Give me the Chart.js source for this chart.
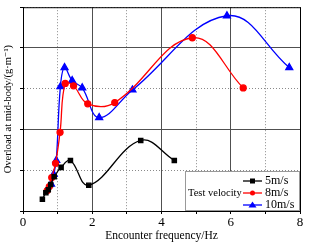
<!DOCTYPE html>
<html>
<head>
<meta charset="utf-8">
<script src="https://cdn.jsdelivr.net/npm/chart.js@4/dist/chart.umd.min.js"></script>
<style>
  html, body { margin: 0; padding: 0; background: #fff; }
  #wrap { width: 322px; height: 243px; }
</style>
</head>
<body>
<div id="wrap"><canvas id="chartload"></canvas></div>
<script>
// values (y axis has no numbers, so arbitrary units)
const seriesLabels = ['5m/s', '8m/s', '10m/s']
const freq5 = [0.56, 0.66, 0.73, 0.80, 0.90, 1.10, 1.37, 1.90, 3.40, 4.37]
const load5 = [0.29, 0.45, 0.52, 0.65, 0.84, 1.07, 1.24, 0.63, 1.73, 1.24]
const freq8 = [0.70, 0.76, 0.83, 0.94, 1.07, 1.22, 1.46, 1.87, 2.65, 4.89, 6.36]
const load8 = [0.50, 0.60, 0.82, 1.17, 1.93, 3.13, 3.07, 2.63, 2.66, 4.25, 3.02]
const freq10 = [0.81, 0.886, 0.96, 1.08, 1.20, 1.42, 1.71, 2.20, 3.16, 5.89, 7.69]
const load10 = [0.66, 0.90, 1.24, 3.05, 3.52, 3.20, 3.02, 2.29, 2.97, 4.79, 3.52]
const xTicks = [0, 2, 4, 6, 8]
const legendTitle = 'Test velocity'

const colors = ['#000000', '#ff0000', '#0000ff']
const markers = ['rect', 'circle', 'triangle']

function pts(xs, ys) {
    return xs.map((x, i) => ({x: x, y: ys[i]}))
}

const serif = "'Liberation Serif', 'DejaVu Serif', serif"

const datasets = [[freq5, load5], [freq8, load8], [freq10, load10]].map((d, i) => ({
    label: seriesLabels[i],
    data: pts(d[0], d[1]),
    showLine: true,
    tension: 0.4,
    borderColor: colors[i],
    backgroundColor: colors[i],
    borderWidth: 1.3,
    pointStyle: markers[i],
    pointRadius: i == 2 ? 4 : 3,
    pointHoverRadius: 3,
}))

const isMajor = c => c.tick && c.tick.value % 2 == 0

// box round the plot + legend inside lower right
const boxAndLegend = {
    id: 'boxAndLegend',
    afterDraw(chart) {
        const ctx = chart.ctx
        const a = chart.chartArea
        ctx.save()
        ctx.strokeStyle = '#000'
        ctx.lineWidth = 1
        ctx.strokeRect(a.left + 0.5, a.top + 0.5, a.right - a.left, a.bottom - a.top)

        // legend frame
        const lx = 185, ly = 171
        ctx.fillStyle = '#fff'
        ctx.fillRect(lx, ly, a.right - lx, a.bottom - ly)
        ctx.strokeStyle = '#999'
        ctx.strokeRect(lx + 0.5, ly + 0.5, a.right - lx - 1, a.bottom - ly - 1)

        ctx.fillStyle = '#000'
        ctx.font = '10.5px ' + serif
        ctx.textBaseline = 'middle'
        ctx.fillText(legendTitle, 188, 193)

        chart.data.datasets.forEach((ds, i) => {
            const y = 181 + i * 12
            ctx.strokeStyle = ds.borderColor
            ctx.lineWidth = 1.3
            ctx.beginPath()
            ctx.moveTo(243, y)
            ctx.lineTo(262, y)
            ctx.stroke()
            ctx.fillStyle = ds.borderColor
            if (ds.pointStyle == 'rect') {
                ctx.fillRect(250, y - 2.5, 5, 5)
            } else if (ds.pointStyle == 'circle') {
                ctx.beginPath()
                ctx.arc(252.5, y, 2.5, 0, Math.PI * 2)
                ctx.fill()
            } else {
                ctx.beginPath()
                ctx.moveTo(252.5, y - 3.5)
                ctx.lineTo(256.5, y + 2.5)
                ctx.lineTo(248.5, y + 2.5)
                ctx.closePath()
                ctx.fill()
            }
            ctx.fillStyle = '#000'
            ctx.font = '12px ' + serif
            ctx.fillText(ds.label, 265, y)
        })
        ctx.restore()
    }
}

const ctx = document.getElementById('chartload')
const chart = new Chart(ctx, {
    type: 'scatter',
    data: {datasets: datasets},
    options: {
        animation: false,
        responsive: true,
        maintainAspectRatio: false,
        layout: {padding: {top: 6, right: 22, left: 0, bottom: 0}},
        plugins: {legend: {display: false}, tooltip: {enabled: false}},
        scales: {
            x: {
                type: 'linear',
                min: 0,
                max: 8,
                afterFit: s => { s.height = 32 },
                ticks: {
                    stepSize: 1,
                    color: '#000',
                    font: {family: serif, size: 13},
                    padding: 1,
                    maxRotation: 0,
                    callback: v => xTicks.includes(v) ? v : ''
                },
                grid: {
                    color: c => isMajor(c) ? '#505050' : '#8a8a8a',
                    tickColor: '#000',
                    tickLength: c => isMajor(c) ? 4 : 3,
                },
                border: {
                    color: '#000',
                    dash: c => isMajor(c) ? [] : [1, 2]
                },
                title: {
                    display: true,
                    text: 'Encounter frequency/Hz',
                    color: '#000',
                    font: {family: serif, size: 11.5},
                    padding: {top: 1, bottom: 0}
                }
            },
            y: {
                type: 'linear',
                min: 0,
                max: 5,
                afterFit: s => { s.width = 23 },
                ticks: {
                    stepSize: 1,
                    callback: () => '',
                    padding: 0
                },
                grid: {
                    color: c => isMajor(c) ? '#505050' : '#8a8a8a',
                    tickColor: '#000',
                    tickLength: 3,
                },
                border: {
                    color: '#000',
                    dash: c => isMajor(c) ? [] : [1, 2]
                },
                title: {
                    display: true,
                    text: 'Overload at mid-body/(g·m⁻¹)',
                    color: '#000',
                    font: {family: serif, size: 10.5},
                    padding: {top: 2, bottom: 0}
                }
            }
        }
    },
    plugins: [boxAndLegend]
})
</script>
</body>
</html>
